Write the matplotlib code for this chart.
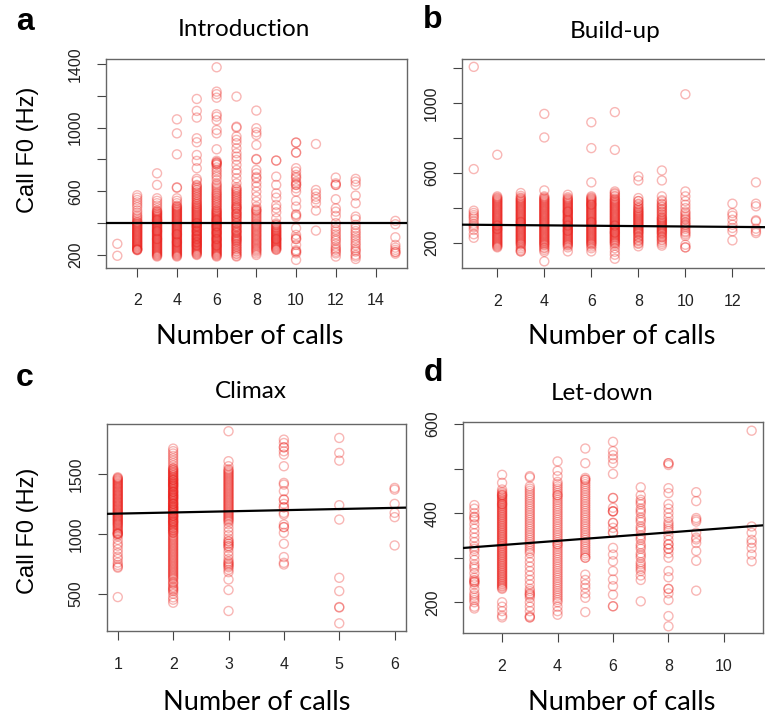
import numpy as np
import matplotlib
matplotlib.use("Agg")
import matplotlib.pyplot as plt

# ---- data (F0 in Hz for each number of calls) ----
intro_calls = [1, 2, 3, 4, 5, 6, 7, 8, 9, 10, 11, 12, 13, 15]
intro_f0 = [
    [270, 195],
    [575, 560, 545, 530, 515, 500, 480, 465, 450, 440, 430, 420, 410, 400, 395, 390, 380, 375, 370,
     360, 350, 345, 340, 330, 325, 320, 310, 300, 290, 280, 270, 260, 250, 240, 235, 230, 232,
     235, 245, 255, 265, 275, 285, 295, 305, 315, 335, 355, 365, 385, 405],
    [713, 640, 556, 540, 525, 510, 495, 480, 470, 460, 450, 440, 430, 420, 410, 400, 390, 380, 370,
     360, 350, 340, 330, 320, 310, 300, 290, 280, 270, 260, 250, 240, 230, 220, 210, 200, 190, 300, 350, 420,
     195, 205, 215, 225, 235, 245, 255, 265, 275, 285, 295, 305, 315, 325, 335, 345, 355, 365, 375,
     385, 395, 405, 415, 425, 435, 445, 455, 465, 475],
    [1052, 964, 832, 625, 622, 556, 540, 525, 510, 500, 490, 480, 470, 460, 450, 440, 430, 420, 410,
     400, 390, 385, 380, 370, 360, 355, 350, 340, 330, 320, 315, 310, 300, 290, 280, 270, 260, 250,
     240, 230, 220, 210, 200, 190, 330, 280,
     195, 205, 215, 225, 235, 245, 255, 265, 275, 285, 295, 305, 325, 335, 345, 365, 375, 395, 405,
     415, 425, 435, 445, 455, 465, 475, 485, 495, 505],
    [1180, 1105, 1063, 933, 908, 828, 791, 745, 678, 665, 640, 625, 610, 595, 580, 565, 550, 535, 520,
     505, 495, 485, 475, 465, 455, 445, 435, 425, 415, 405, 395, 385, 375, 365, 355, 345, 335, 325,
     315, 305, 295, 285, 275, 265, 255, 245, 235, 225, 215, 205, 200, 400, 380, 350, 320, 300, 280, 260,
     210, 220, 230, 240, 250, 260, 270, 280, 290, 300, 310, 320, 330, 340, 350, 360, 370, 380, 390,
     400, 410, 420, 430, 440, 450, 460, 470, 480, 490, 500, 510, 520, 530, 545, 560, 575, 590, 605, 620, 635],
    [1379, 1226, 1210, 1188, 1084, 1069, 1046, 985, 964, 864, 791, 783, 766, 734, 703, 671, 640, 620,
     600, 585, 570, 555, 540, 525, 510, 495, 480, 470, 460, 450, 440, 430, 420, 410, 400, 390, 380,
     370, 360, 350, 340, 330, 320, 310, 300, 290, 280, 270, 260, 250, 240, 230, 220, 210, 200, 190,
     780, 770, 420, 380, 340, 300, 260,
     195, 205, 215, 225, 235, 245, 255, 265, 275, 285, 295, 305, 315, 325, 335, 345, 355, 365, 375,
     385, 395, 405, 415, 425, 435, 445, 455, 465, 475, 485, 500, 515, 530, 545, 560, 575, 590, 610,
     630, 650, 690, 720, 750, 775],
    [1195, 1006, 1000, 944, 923, 902, 870, 839, 818, 797, 766, 734, 713, 682, 650, 625, 610, 595, 580,
     565, 550, 535, 520, 505, 490, 475, 460, 445, 430, 415, 400, 385, 370, 355, 340, 325, 310, 295,
     280, 265, 250, 235, 220, 205, 190, 500, 460, 350, 300,
     195, 210, 225, 240, 255, 270, 285, 290, 305, 315, 320, 335, 345, 360, 375, 380, 395, 405, 420,
     435, 440, 455, 470, 485, 495, 510, 525, 540, 555, 570, 585, 600, 615],
    [1107, 996, 971, 954, 891, 803, 734, 713, 682, 654, 629, 598, 566, 535, 504, 480, 460, 440, 420,
     400, 385, 370, 355, 340, 325, 310, 295, 280, 265, 250, 235, 220, 200, 800, 690, 480,
     210, 228, 242, 258, 272, 288, 302, 318, 332, 348, 362, 378, 392, 410, 430, 450, 470, 490],
    [793, 692, 640, 587, 560, 514, 493, 468, 430, 398, 385, 372, 360, 350, 340, 330, 320, 310, 300,
     290, 280, 270, 260, 250, 240, 232, 793, 300,
     235, 245, 255, 265, 275, 285, 295, 305, 315, 325, 335, 345, 355, 365, 375, 390],
    [906, 906, 843, 843, 745, 724, 703, 682, 661, 640, 640, 619, 598, 541, 504, 456, 450, 440, 368, 326,
     310, 300, 263, 221, 221, 210, 169, 690, 650, 300, 230],
    [897, 608, 587, 566, 550, 525, 479, 353],
    [686, 650, 640, 640, 550, 493, 472, 445, 400, 378, 347, 316, 289, 253, 232, 210, 190, 240,
     360, 330, 300, 270, 220],
    [678, 661, 640, 573, 525, 441, 424, 389, 368, 336, 305, 273, 242, 221, 200, 175, 190,
     350, 320, 290, 260, 230],
    [414, 393, 311, 263, 246, 232, 217, 208, 220],
]
intro_fit = (400.0, 0.0)  # intercept, slope

build_calls = [1, 2, 3, 4, 5, 6, 7, 8, 9, 10, 12, 13]
build_f0 = [
    [1208, 623, 385, 372, 360, 350, 340, 325, 310, 300, 290, 275, 250, 230],
    [705, 467, 455, 445, 435, 425, 415, 405, 395, 385, 375, 365, 355, 345, 335, 325, 315, 305, 295,
     285, 275, 265, 255, 245, 235, 225, 215, 205, 195, 185, 175, 330, 300, 280,
     180, 190, 200, 210, 220, 230, 240, 250, 260, 270, 280, 290, 300, 310, 320, 340, 350, 360, 370,
     380, 390, 400, 410, 420, 430, 440, 450, 460],
    [486, 470, 455, 440, 425, 410, 395, 380, 365, 350, 335, 320, 305, 290, 275, 260, 245, 230, 215,
     200, 190, 170, 152, 152, 320, 280,
     160, 180, 195, 205, 210, 220, 225, 235, 240, 250, 255, 265, 270, 285, 295, 300, 310, 315, 325,
     330, 340, 345, 355, 360, 370, 375, 385, 390, 400, 405, 415, 420, 430, 435, 445, 450, 460],
    [939, 804, 501, 467, 455, 445, 435, 425, 415, 405, 395, 385, 375, 365, 355, 345, 335, 325, 315,
     305, 295, 285, 275, 265, 255, 245, 235, 225, 215, 205, 195, 185, 170, 150, 95,
     160, 175, 190, 200, 210, 220, 230, 240, 250, 260, 270, 280, 290, 300, 310, 320, 330, 340, 350,
     360, 370, 380, 390, 400, 410, 420, 430, 440, 450, 460],
    [476, 462, 450, 440, 430, 420, 410, 400, 390, 380, 370, 360, 350, 340, 330, 320, 310, 300, 290,
     280, 270, 260, 250, 240, 230, 220, 210, 200, 190, 175, 152, 380, 330, 300, 270,
     185, 195, 205, 215, 225, 235, 245, 255, 265, 275, 285, 295, 305, 315, 325, 335, 345, 355, 365,
     375, 385, 395, 405, 415, 425, 435, 445, 455],
    [891, 743, 547, 467, 455, 445, 435, 425, 415, 405, 395, 385, 375, 365, 355, 345, 335, 325, 315,
     305, 295, 285, 275, 265, 255, 245, 235, 225, 215, 205, 195, 180, 152, 420, 320,
     170, 190, 200, 210, 220, 230, 240, 250, 260, 270, 280, 290, 300, 310, 320, 330, 340, 350, 360,
     370, 380, 390, 400, 410, 420, 430, 440, 450, 460],
    [949, 733, 495, 486, 470, 455, 440, 425, 410, 395, 380, 365, 350, 335, 320, 305, 290, 275, 260,
     245, 230, 215, 200, 185, 170, 150, 133, 110, 300, 260,
     195, 205, 210, 220, 225, 235, 240, 250, 255, 265, 270, 280, 285, 295, 300, 310, 315, 325, 330,
     340, 345, 355, 360, 370, 375, 385, 390, 400, 405, 415, 420, 430, 435, 445, 450, 465, 480],
    [581, 558, 457, 440, 425, 410, 400, 390, 380, 370, 360, 350, 340, 330, 320, 310, 300, 290, 280,
     270, 260, 250, 240, 230, 220, 210, 195, 181,
     200, 215, 235, 255, 265, 275, 285, 295, 305, 315, 325, 335, 345, 355, 365, 375, 385, 400, 420, 440],
    [615, 558, 467, 438, 425, 410, 395, 380, 365, 350, 340, 330, 320, 310, 300, 290, 280, 270, 260,
     250, 240, 230, 220, 205, 185,
     195, 215, 235, 255, 265, 275, 285, 295, 305, 315, 325, 335, 345, 360, 375, 390, 405, 420, 445],
    [1051, 495, 467, 440, 419, 400, 371, 350, 333, 320, 305, 290, 267, 250, 190, 175, 175,
     380, 360, 340, 315, 300, 280, 260, 240],
    [425, 371, 356, 333, 305, 286, 267, 215],
    [547, 425, 410, 330, 324, 282, 267, 257],
]
build_fit = (305.5, -1.1)

climax_calls = [1, 2, 3, 4, 5, 6]
climax_f0 = [
    [1472, 1460, 1445, 1430, 1415, 1400, 1385, 1370, 1355, 1340, 1325, 1310, 1295, 1280, 1265, 1250,
     1235, 1220, 1205, 1190, 1175, 1160, 1145, 1130, 1115, 1100, 1085, 1070, 1050, 1030, 1010, 1000,
     994, 980, 950, 920, 900, 870, 840, 810, 790, 760, 740, 725, 717, 472,
     1465, 1452, 1438, 1422, 1408, 1392, 1378, 1362, 1348, 1332, 1318, 1302, 1288, 1272, 1258, 1242,
     1228, 1212, 1198, 1182, 1168, 1152, 1138, 1122, 1108, 1092, 1078, 1060, 1040, 1020, 1005, 1000],
    [1711, 1690, 1670, 1650, 1630, 1610, 1590, 1570, 1550, 1530, 1510, 1490, 1470, 1450, 1430, 1410,
     1390, 1370, 1350, 1330, 1310, 1290, 1270, 1250, 1230, 1210, 1190, 1170, 1150, 1130, 1110, 1090,
     1070, 1050, 1030, 1010, 990, 970, 950, 930, 910, 890, 870, 850, 830, 810, 790, 770, 750, 730,
     710, 690, 670, 650, 630, 600, 580, 560, 540, 520, 500, 470, 450, 425,
     1450, 1400, 1350, 1300, 1250, 1200, 1150, 1100, 1420, 1320, 1220,
     1545, 1535, 1525, 1515, 1505, 1495, 1485, 1475, 1465, 1455, 1445, 1435, 1425, 1415, 1405, 1395,
     1385, 1375, 1365, 1355, 1345, 1335, 1325, 1315, 1305, 1295, 1285, 1275, 1265, 1255, 1245, 1235,
     1225, 1215, 1205, 1195, 1185, 1175, 1165, 1155, 1145, 1135, 1125, 1115, 1105, 1095, 1085, 1075,
     1065, 1055, 1045, 1035, 1025, 1015, 1005, 980, 960, 940, 920, 900, 880, 860, 840, 820, 800, 780,
     760, 740, 720, 700, 680, 660, 640, 620, 590, 550, 530],
    [1856, 1606, 1564, 1540, 1520, 1500, 1480, 1460, 1440, 1420, 1400, 1380, 1360, 1340, 1320, 1300,
     1280, 1260, 1240, 1220, 1200, 1180, 1160, 1140, 1120, 1100, 1080, 1050, 1020, 990, 960, 940,
     920, 900, 880, 850, 820, 790, 770, 750, 730, 700, 680, 619, 531, 356,
     1530, 1510, 1490, 1470, 1450, 1430, 1410, 1390, 1370, 1350, 1330, 1310, 1290, 1270, 1250, 1230,
     1210, 1190, 1170, 1150, 1130, 1110, 935, 915, 895, 760, 740, 720],
    [1786, 1758, 1722, 1689, 1661, 1564, 1425, 1411, 1356, 1286, 1250, 1222, 1175, 1161, 1078, 1056,
     1008, 917, 806, 758, 744, 1722, 1286, 1222, 1056],
    [1800, 1675, 1611, 1239, 1119, 633, 522, 389, 385, 253],
    [1383, 1369, 1250, 1175, 1139, 903],
]
climax_fit = (1159.0, 9.6)

letdown_calls = [1, 2, 3, 4, 5, 6, 7, 8, 9, 11]
letdown_f0 = [
    [418, 410, 400, 392, 385, 375, 365, 355, 345, 335, 325, 315, 305, 295, 285, 275, 265, 255, 248,
     245, 240, 230, 220, 210, 200, 190, 186, 390, 320, 280, 250, 245, 215, 205],
    [486, 468, 453, 445, 440, 435, 430, 425, 420, 415, 410, 405, 400, 395, 390, 385, 380, 375, 370,
     365, 360, 355, 350, 345, 340, 335, 330, 325, 320, 315, 310, 305, 300, 295, 290, 285, 280, 275,
     270, 265, 260, 255, 250, 245, 240, 235, 230, 200, 190, 180, 170, 166, 440, 420,
     448, 442, 437, 432, 427, 422, 417, 412, 407, 402, 397, 392, 387, 382, 377, 372, 367, 362, 357,
     352, 347, 342, 337, 332, 327, 322, 317, 312, 307, 302, 297, 292, 287, 282, 277, 272, 267, 262,
     257, 252, 247, 242, 237, 232],
    [483, 480, 460, 450, 440, 430, 420, 410, 400, 390, 380, 370, 360, 350, 340, 330, 320, 310, 300,
     290, 280, 270, 260, 250, 240, 230, 220, 215, 210, 200, 190, 180, 169, 166,
     455, 445, 435, 425, 415, 405, 395, 385, 375, 365, 355, 345, 335, 325, 315, 225, 218, 166],
    [516, 495, 483, 470, 460, 450, 440, 430, 420, 410, 400, 390, 380, 370, 360, 350, 340, 330, 320,
     310, 300, 290, 280, 270, 260, 250, 240, 230, 220, 210, 200, 190, 180, 172, 440, 330,
     465, 455, 445, 435, 425, 415, 405, 395, 385, 375, 365, 355, 345, 335, 325, 315, 305, 295, 285,
     275, 265, 255, 245, 235, 225, 215, 205],
    [545, 512, 479, 475, 465, 455, 445, 435, 425, 415, 405, 395, 385, 375, 365, 355, 345, 335, 325,
     315, 305, 300, 262, 250, 240, 232, 220, 210, 178, 475,
     470, 460, 450, 440, 430, 420, 410, 400, 390, 380, 370, 360, 350, 340, 330, 320, 310, 300],
    [560, 539, 530, 522, 512, 488, 434, 412, 404, 404, 378, 367, 356, 322, 307, 292, 270, 251, 236,
     217, 191, 191, 434, 404, 378, 356],
    [458, 440, 430, 420, 410, 400, 390, 380, 370, 360, 350, 340, 330, 320, 310, 300, 290, 280, 270,
     260, 250, 202, 425, 405, 385, 365, 345, 325, 305, 285, 275],
    [512, 508, 456, 445, 420, 410, 400, 390, 380, 370, 360, 350, 340, 330, 320, 310, 300, 270, 256,
     230, 220, 205, 169, 146, 512, 375, 365, 330, 320, 230],
    [447, 427, 389, 381, 356, 341, 333, 315, 293, 226, 385, 345],
    [585, 370, 356, 340, 333, 322, 307, 292],
]
letdown_fit = (319.0, 4.7)

W, H = 765, 717
fig = plt.figure(figsize=(W / 100, H / 100), dpi=100)

TICK_FONT = "Liberation Sans"
LABEL_FONT = "Lato"
RED = (0.92, 0.12, 0.10, 0.32)


def axes_px(left, top, right, bottom):
    return fig.add_axes([left / W, 1 - bottom / H, (right - left) / W, (bottom - top) / H])


def panel(box, calls, f0, fit, xlim, ylim, xticks, yticks, ylabels):
    ax = axes_px(*box)
    xs = np.concatenate([[c] * len(v) for c, v in zip(calls, f0)])
    ys = np.concatenate([np.array(v, dtype=float) for v in f0])
    ax.scatter(xs, ys, s=42, facecolors="none", edgecolors=[RED], linewidths=1.0, zorder=2)
    xl = np.array(xlim)
    ax.plot(xl, fit[0] + fit[1] * xl, color="black", lw=1.6, zorder=3)
    ax.set_xlim(*xlim)
    ax.set_ylim(*ylim)
    ax.set_xticks(xticks)
    ax.set_xticklabels([str(t) for t in xticks], fontfamily=TICK_FONT, fontsize=11.5, color="#222222")
    ax.set_yticks(yticks)
    ax.set_yticklabels([str(t) if t in ylabels else "" for t in yticks], rotation=90, va="center",
                       fontfamily=TICK_FONT, fontsize=11.5, color="#222222")
    ax.tick_params(axis="x", direction="out", length=6.5, width=0.8, color="#444444", pad=12)
    ax.tick_params(axis="y", direction="out", length=6.5, width=0.8, color="#444444", pad=10)
    for s in ax.spines.values():
        s.set_color("#666666")
        s.set_linewidth(1.0)
    return ax


panel((106, 59, 406.7, 267.7), intro_calls, intro_f0, intro_fit, (0.43, 15.57), (120, 1431),
      [2, 4, 6, 8, 10, 12, 14], [200, 400, 600, 800, 1000, 1200, 1400], [200, 600, 1000, 1400])
panel((462, 59, 767.7, 268), build_calls, build_f0, build_fit, (0.5, 13.5), (57, 1253),
      [2, 4, 6, 8, 10, 12], [200, 400, 600, 800, 1000, 1200], [200, 600, 1000])
panel((106.7, 423.7, 405.7, 631), climax_calls, climax_f0, climax_fit, (0.8, 6.2), (189, 1919),
      [1, 2, 3, 4, 5, 6], [500, 1000, 1500], [500, 1000, 1500])
panel((463, 422, 763.3, 633), letdown_calls, letdown_f0, letdown_fit, (0.59, 11.42), (131, 604.5),
      [2, 4, 6, 8, 10], [200, 300, 400, 500, 600], [200, 400, 600])


def txt(x, y, s, **kw):
    fig.text(x / W, 1 - y / H, s, ha="center", va="center", **kw)


# panel titles and labels
titles = [("Introduction", 244, 29), ("Build-up", 615, 31), ("Climax", 251, 391), ("Let-down", 602, 393)]
for s, x, y in titles:
    txt(x, y, s, fontfamily=LABEL_FONT, fontsize=17.5)

for x, y in [(250, 336), (622, 336), (257, 702), (622, 702)]:
    txt(x, y, "Number of calls", fontfamily=LABEL_FONT, fontsize=19.5)

for y in [150, 531]:
    txt(28, y, "Call F0 (Hz)", fontfamily=TICK_FONT, fontsize=17, rotation=90)

for s, x, y in [("a", 25, 22), ("b", 433, 20), ("c", 25, 378), ("d", 433, 373)]:
    txt(x, y, s, fontfamily=TICK_FONT, fontsize=23, fontweight="bold")

fig.savefig("out.png", dpi=100)
